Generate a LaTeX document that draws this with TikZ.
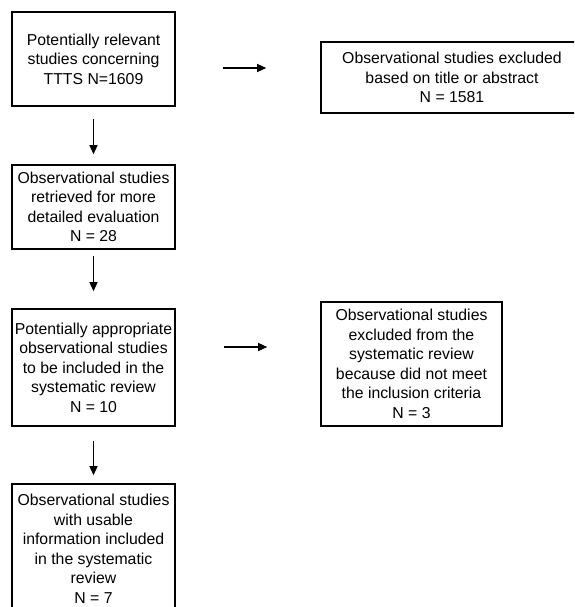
\documentclass[tikz,border=0pt]{standalone}
\usepackage{fontspec}
\setmainfont{Liberation Sans}
\usetikzlibrary{arrows.meta}

\tikzset{
  flowbox/.style={draw=black,line width=1.6pt,align=center,inner sep=0pt,font=\fontsize{15.8}{19.5}\selectfont},
  arr/.style={-{Triangle[length=9pt,width=8pt]},line width=1.3pt}
}

\begin{document}
\begin{tikzpicture}[x=1pt,y=-1pt]

\useasboundingbox (0,0) rectangle (574,607);
\clip (0,0) rectangle (574,607);

% left column
\node[flowbox,minimum width=163pt,minimum height=94pt] (found) at (93.5,59) {Potentially relevant\\studies concerning\\TTTS N=1609};
\node[flowbox,minimum width=163pt,minimum height=84pt] (retr) at (93.5,207) {Observational studies\\retrieved for more\\detailed evaluation\\N = 28};
\node[flowbox,minimum width=163pt,minimum height=117pt] (appr) at (93.5,367.5) {Potentially appropriate\\observational studies\\to be included in the\\systematic review\\N = 10};
\node[flowbox,minimum width=163pt,minimum height=130pt] (incl) at (93.5,549) {Observational studies\\with usable\\information included\\in the systematic\\review\\N = 7};

% right column
\node[flowbox,minimum width=262pt,minimum height=71pt] (excl) at (452,77.5) {Observational studies excluded\\based on title or abstract\\N = 1581};
\node[flowbox,minimum width=181pt,minimum height=124pt] (crit) at (411.5,364) {Observational studies\\excluded from the\\systematic review\\because did not meet\\the inclusion criteria\\N = 3};

% arrows
\draw[arr,shorten <=12pt,shorten >=10pt] (found) -- (retr);
\draw[arr,shorten <=6pt,shorten >=17pt] (retr) -- (appr);
\draw[arr,shorten <=14pt,shorten >=8pt] (appr) -- (incl);

\draw[arr] ([xshift=47pt,yshift=-9pt]found.east) -- ([xshift=-54pt,yshift=9.5pt]excl.west);
\draw[arr] ([xshift=48pt,yshift=20.5pt]appr.east) -- ([xshift=-53pt,yshift=17pt]crit.west);

\end{tikzpicture}
\end{document}
